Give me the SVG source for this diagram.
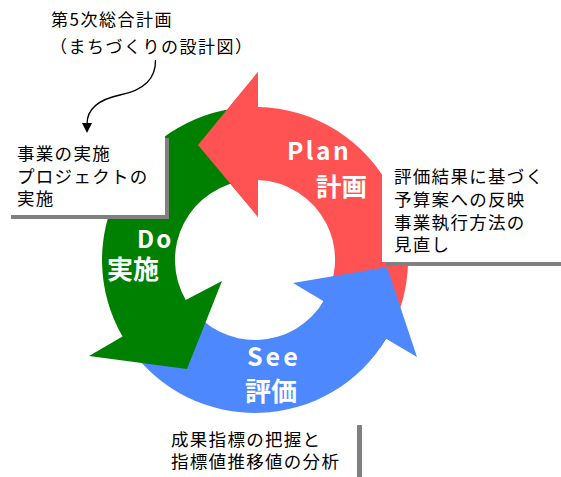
<svg xmlns="http://www.w3.org/2000/svg" width="561" height="477" viewBox="0 0 561 477">
<style>
.t{font-family:"Noto Sans CJK JP","Liberation Sans",sans-serif;font-size:17px;fill:#000;letter-spacing:1.5px}
.bx{font-family:"Noto Sans CJK JP","Liberation Sans",sans-serif;font-size:17.5px;fill:#000;letter-spacing:1.3px}
.w{font-family:"Noto Sans CJK JP","Liberation Sans",sans-serif;font-weight:bold;fill:#fff}
.box{fill:#fff}
.sh{fill:#808080}
.red{fill:#FF5252}
.grn{fill:#008000}
.blu{fill:#4D88FF}
</style>
<defs>
<marker id="ah" markerWidth="11" markerHeight="11" refX="1" refY="5" orient="auto" markerUnits="userSpaceOnUse">
<path d="M0,0 L10,5 L0,10 Z" fill="#000"/>
</marker>
</defs>

<g id="plan">
<path class="red" d="M380.3,347.8 A153,153 0 0 0 258,107 L258,72 L198,145 L258,217 L258,180 A80,80 0 0 1 320.5,305.9 Z"/>
</g>
<g id="see">
<path class="blu" d="M129.7,347.8 A153,153 0 0 0 386.1,338.8 L417,357 L387,267 L293,283 L323.6,301.2 A80,80 0 0 1 189.5,305.9 Z"/>
<text class="w" x="247" y="366" font-size="25" letter-spacing="3">See</text>
<text class="w" x="245" y="401" font-size="26">評価</text>
</g>
<g id="do">
<path class="grn" d="M241.7,107.6 A153,153 0 0 0 122.5,336.5 L89,356 L187,369 L222,281 L185.7,300 A80,80 0 0 1 248,180.3 Z"/>
<text class="w" x="137" y="248" font-size="24" letter-spacing="2">Do</text>
<text class="w" x="107" y="279" font-size="26">実施</text>
</g>
<g id="plan-head">
<polygon class="red" points="258,72 198,145 258,217"/>
<text class="w" x="287" y="160" font-size="24.5" letter-spacing="2.5">Plan</text>
<text class="w" x="316" y="196" font-size="25.5">計画</text>
</g>

<g id="note-plan">
<text class="t" x="51" y="26">第5次総合計画</text>
<text class="t" x="50" y="53">（まちづくりの設計図）</text>
</g>

<g id="box-do">
<rect class="sh" x="11" y="138" width="158" height="81"/>
<rect class="box" x="7" y="134" width="158" height="81"/>
<text class="bx" x="17" y="160">事業の実施</text>
<text class="bx" x="17" y="182.5">プロジェクトの</text>
<text class="bx" x="17" y="205">実施</text>
</g>

<g id="box-plan">
<rect class="sh" x="386" y="156" width="180" height="110"/>
<rect class="box" x="382" y="152" width="185" height="110"/>
<text class="bx" x="394" y="183">評価結果に基づく</text>
<text class="bx" x="394" y="206">予算案への反映</text>
<text class="bx" x="394" y="228.5">事業執行方法の</text>
<text class="bx" x="394" y="251">見直し</text>
</g>

<g id="box-see">
<rect class="sh" x="166" y="425" width="196" height="60"/>
<rect class="box" x="162" y="421" width="195" height="60"/>
<text class="bx" x="171" y="446">成果指標の把握と</text>
<text class="bx" x="171" y="468">指標値推移値の分析</text>
</g>

<g id="connectors">
<path d="M155.5,60 C156,82 140,91 120,95 C101,99 87,108 87,124" fill="none" stroke="#000" stroke-width="1.3" marker-end="url(#ah)"/>
</g>
</svg>
